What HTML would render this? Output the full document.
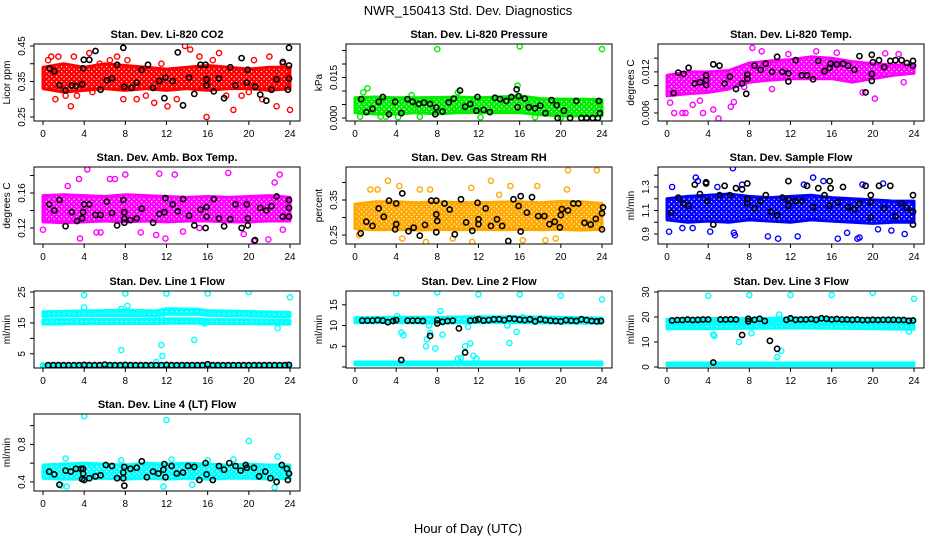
<!DOCTYPE html>
<html><head><meta charset="utf-8">
<style>
html,body{margin:0;padding:0;background:#fff;}
svg{display:block;font-family:"Liberation Sans",Arial,sans-serif;}
</style></head>
<body>
<svg id="chart" width="936" height="540" viewBox="0 0 936 540" xmlns="http://www.w3.org/2000/svg">
<rect width="936" height="540" fill="#fff"/>
<defs id="defs"></defs>
<text x="468" y="15" text-anchor="middle" font-size="13">NWR_150413 Std. Dev. Diagnostics</text>
<text x="468" y="533" text-anchor="middle" font-size="13">Hour of Day (UTC)</text>
</svg>
<script>
// ---------- Panel 1: Li-820 CO2 ----------
const p1BandT=[0,2,4,6,8,10,12,14,16,18,20,22,24];
const p1BandLo=[0.33,0.32,0.325,0.33,0.325,0.33,0.325,0.33,0.325,0.33,0.33,0.325,0.33];
const p1BandHi=[0.39,0.40,0.39,0.40,0.395,0.39,0.385,0.39,0.395,0.39,0.385,0.39,0.39];
const p1PtsH=[0.5,0.8,1.2,1.5,2.2,2.7,3,3.3,4.5,4.8,5.5,6.5,7.2,7.8,8.2,9.1,10,10.8,11.5,12.1,13,13.8,14.3,15.2,15.9,16.5,17.1,17.8,18.5,19.3,20,20.5,21.3,22,22.7,23.3,24];
const p1PtsV=[0.41,0.42,0.30,0.42,0.31,0.28,0.42,0.31,0.43,0.32,0.40,0.41,0.42,0.30,0.41,0.30,0.31,0.29,0.40,0.28,0.30,0.45,0.44,0.42,0.25,0.41,0.43,0.31,0.27,0.31,0.32,0.41,0.30,0.42,0.28,0.40,0.27];
const p1BlkH=[0.65,1.1,1.6,2.2,2.8,3.2,3.8,3.9,3.96,4.5,5.1,5.6,6.2,6.7,7.2,7.8,7.9,8.6,9.1,9.6,10.2,10.7,11.3,11.8,11.9,12.6,13.1,13.6,14.2,14.7,15.3,15.8,15.9,15.9,16.6,17.1,17.6,18.2,18.7,19.3,19.8,19.9,20.6,21.1,21.7,22.2,22.7,23.3,23.8,23.9,23.9,23.9];
const p1BlkV=[0.387,0.379,0.339,0.325,0.339,0.337,0.342,0.387,0.411,0.411,0.436,0.327,0.353,0.359,0.397,0.445,0.335,0.332,0.347,0.383,0.397,0.332,0.351,0.303,0.361,0.351,0.432,0.283,0.361,0.315,0.397,0.397,0.356,0.339,0.322,0.359,0.303,0.390,0.339,0.416,0.347,0.383,0.335,0.313,0.296,0.327,0.356,0.405,0.327,0.445,0.395,0.358];
const p1Ticks=[0.25,0.30,0.35,0.40,0.45];
const p1TickLabels=["0.25","","0.35","","0.45"];

// ---------- Panel 2: Li-820 Pressure ----------
const p2BandT=[0,2,4,6,8,10,12,14,16,18,20,22,24];
const p2BandLo=[0.002,0.0015,0.0015,0.002,0.0015,0.002,0.002,0.002,0.002,0.0012,0.0008,0.0008,0.0008];
const p2BandHi=[0.0075,0.0078,0.0075,0.0075,0.0076,0.0078,0.0075,0.0078,0.0082,0.0072,0.007,0.007,0.0068];
const p2PtsH=[8,16,24,0.8,1.2,15.8,10,5.5,0.5,2.5,4.2,6.3,12.2,20,22.5,17.5,3];
const p2PtsV=[0.0255,0.0265,0.0255,0.0095,0.011,0.012,0.0095,0.0085,0.0005,0.0005,0.0003,0.0005,0.0003,0.0002,0.0002,0.0003,0.0005];
const p2BlkH=[0.6,1.1,1.7,2.3,2.7,3.3,3.9,4.5,5.1,5.6,6.2,6.7,7.3,7.8,7.9,8.5,9.1,9.6,10.2,10.7,11.2,11.8,11.9,12.5,13.1,13.6,14.1,14.7,15.2,15.7,15.8,15.9,16.5,16.9,17.5,18,18.5,19.1,19.6,19.7,20.3,20.9,21.5,22,22.5,23.1,23.7,23.8,23.6];
const p2BlkV=[0.007,0.0022,0.0034,0.006,0.0078,0.0014,0.006,0.0018,0.007,0.006,0.0052,0.0057,0.0052,0.0014,0.0039,0.0024,0.0058,0.0072,0.0102,0.0042,0.0052,0.0027,0.0078,0.003,0.0022,0.0075,0.007,0.0063,0.0078,0.0106,0.004,0.0081,0.0072,0.004,0.0036,0.0046,0.0018,0.0066,0.0048,0,0.0027,0,0.0063,0,0,0,0.0063,0.0018,0];
const p2Ticks=[0,0.005,0.010,0.015,0.020,0.025];
const p2TickLabels=["0.000","","","0.015","",""];

// ---------- Panel 3: Li-820 Temp ----------
const p3BandT=[0,2,4,6,8,10,12,14,16,18,20,22,24];
const p3BandLo=[0.0085,0.0088,0.009,0.0095,0.0105,0.0108,0.011,0.011,0.011,0.0105,0.011,0.0115,0.0118];
const p3BandHi=[0.0115,0.012,0.012,0.0122,0.0133,0.0136,0.0138,0.0142,0.014,0.0135,0.0132,0.013,0.013];
const p3PtsH=[0.7,1.5,1.8,3.5,4.5,5,6.2,6.5,7.5,8.3,9.2,10.2,11.8,14.5,16.5,19,20.2,21.2,22.5,23,0.3,2.5,3.2];
const p3PtsV=[0.006,0.006,0.006,0.006,0.0065,0.0052,0.0069,0.0076,0.0098,0.0155,0.015,0.0095,0.0146,0.015,0.0148,0.009,0.0081,0.0147,0.0146,0.0105,0.0075,0.0072,0.0078];
const p3BlkH=[0.65,1.1,1.6,2.1,2.7,3.2,3.8,3.8,3.8,4.5,5.1,5.6,6.1,6.7,7.3,7.8,7.8,7.7,8.5,9.1,9.6,10.2,10.7,11.2,11.8,11.8,12.5,13.1,13.6,14.2,14.7,15.3,15.8,15.9,16.5,17.1,17.6,18.2,18.7,19.3,19.9,20,19.9,19.9,20.6,21.1,21.7,22.2,22.8,23.3,23.9,23.9];
const p3BlkV=[0.0089,0.0119,0.0117,0.0126,0.0103,0.0105,0.0115,0.0108,0.0101,0.0131,0.0129,0.0103,0.0113,0.0095,0.0103,0.0116,0.011,0.0088,0.0129,0.0123,0.0132,0.012,0.0142,0.012,0.0118,0.0106,0.0137,0.0115,0.0115,0.0109,0.0136,0.0121,0.0126,0.0132,0.0131,0.0132,0.0129,0.0123,0.0143,0.009,0.0145,0.0134,0.0117,0.0107,0.0137,0.0127,0.0136,0.0137,0.0137,0.0133,0.0136,0.0129];
const p3Ticks=[0.006,0.008,0.010,0.012,0.014];
const p3TickLabels=["0.006","","","0.012",""];

// ---------- Panel 4: Amb. Box Temp ----------
const p4BandT=[0,2,4,6,8,10,12,14,16,18,20,22,24];
const p4BandLo=[0.127,0.126,0.127,0.128,0.127,0.128,0.127,0.128,0.128,0.127,0.127,0.128,0.128];
const p4BandHi=[0.157,0.158,0.157,0.156,0.158,0.157,0.156,0.155,0.156,0.155,0.156,0.157,0.155];
const p4PtsH=[0,2.4,3.5,4.3,5.2,5.6,6.5,7,8,9.5,11,11.3,11.9,12.8,13.6,15.2,18,19.5,20.5,21.9,22.5,23,23.3,3.6];
const p4PtsV=[0.118,0.168,0.176,0.187,0.115,0.115,0.176,0.176,0.181,0.115,0.112,0.182,0.108,0.181,0.116,0.12,0.183,0.113,0.105,0.107,0.172,0.181,0.118,0.108];
const p4BlkH=[0.6,1.1,1.6,2.2,2.8,3.3,3.8,3.9,4,4.5,5.1,5.6,6.2,6.7,7.2,7.8,7.9,7.9,7.9,8.5,9.1,9.6,10.7,11.3,11.8,11.9,12.6,13.1,13.6,14.2,14.7,15.3,15.8,15.9,15.9,16.6,17.1,17.6,18.2,18.7,19.3,19.8,19.9,19.9,20.6,21.1,21.7,22.2,22.7,23.3,23.9,23.9,23.9];
const p4BlkV=[0.147,0.14,0.152,0.122,0.138,0.128,0.131,0.138,0.147,0.147,0.135,0.135,0.15,0.137,0.123,0.152,0.138,0.131,0.126,0.129,0.131,0.142,0.126,0.136,0.138,0.154,0.147,0.139,0.153,0.134,0.123,0.141,0.12,0.133,0.144,0.153,0.131,0.122,0.13,0.147,0.12,0.147,0.131,0.123,0.106,0.143,0.14,0.145,0.156,0.133,0.133,0.143,0.152];
const p4Ticks=[0.12,0.14,0.16,0.18];
const p4TickLabels=["0.12","","0.16",""];

// ---------- Panel 5: Gas Stream RH ----------
const p5BandT=[0,2,4,6,8,10,12,14,16,18,20,22,24];
const p5BandLo=[0.268,0.265,0.266,0.264,0.266,0.265,0.266,0.265,0.266,0.265,0.266,0.264,0.266];
const p5BandHi=[0.338,0.345,0.345,0.342,0.345,0.343,0.342,0.344,0.345,0.342,0.346,0.345,0.34];
const p5PtsH=[1.5,2.2,3.2,4.3,6.3,7.3,9.5,11.3,11.4,13.2,14,15.1,16.3,17.7,18.5,19.5,20.6,20.7,23.5,4.6,6.9,0.4];
const p5PtsV=[0.38,0.38,0.405,0.39,0.38,0.38,0.24,0.385,0.23,0.405,0.365,0.39,0.235,0.39,0.235,0.24,0.38,0.435,0.435,0.24,0.23,0.25];
const p5BlkH=[0.55,1.1,1.7,2.3,2.8,3.3,3.9,4,4,4.6,5.2,5.7,6.3,6.8,7.4,7.9,7.9,8,7.9,8.7,9.2,9.7,10.3,10.8,11.4,11.9,12,12,12.7,13.2,13.8,14.3,14.9,15.4,15.9,16.1,16.1,16.7,17.2,17.8,18.4,18.9,19.4,19.9,20,20.1,20.7,21.2,21.7,22.3,22.9,23.4,24,24,24.1];
const p5BlkV=[0.255,0.288,0.276,0.326,0.302,0.348,0.266,0.34,0.281,0.369,0.261,0.271,0.248,0.279,0.348,0.348,0.309,0.29,0.258,0.34,0.323,0.252,0.352,0.286,0.262,0.342,0.295,0.281,0.326,0.276,0.295,0.276,0.233,0.352,0.333,0.361,0.26,0.314,0.358,0.304,0.304,0.281,0.288,0.272,0.307,0.324,0.32,0.34,0.34,0.285,0.28,0.296,0.266,0.312,0.329];
const p5Ticks=[0.25,0.30,0.35,0.40];
const p5TickLabels=["0.25","","0.35",""];

// ---------- Panel 6: Sample Flow ----------
const p6BandT=[0,2,4,6,8,10,12,14,16,18,20,22,24];
const p6BandLo=[1.02,1.0,1.01,1.0,1.02,1.01,1.0,1.02,1.01,1.0,0.99,1.0,1.0];
const p6BandHi=[1.2,1.22,1.23,1.24,1.22,1.21,1.22,1.23,1.21,1.2,1.19,1.18,1.18];
const p6PtsH=[0.2,0.5,1.5,2.5,2.8,3,4.2,4.9,6.5,6.6,6.4,7.3,9.8,10.8,12.7,13.3,14.2,15.2,16.6,17.5,18.5,18.7,19,20.5,21,21.8,23.1];
const p6PtsV=[0.92,1.3,0.95,0.95,1.38,1.35,0.92,1.3,0.91,0.89,1.46,1.32,0.88,0.86,0.88,1.32,1.38,1.35,0.86,0.91,0.86,0.87,1.32,0.94,1.33,0.93,0.9];
const p6BlkH=[0.4,1.1,1.6,2.1,2.7,3.2,3.8,3.8,3.9,4.5,5.1,5.6,6.1,6.7,7.3,7.8,7.8,7.8,8.5,9.1,9.6,10.1,10.7,11.2,11.8,11.8,11.8,12.5,13.1,13.6,14.2,14.7,15.3,15.8,15.8,15.9,16.6,17.1,17.6,18.2,18.7,19.3,19.8,19.8,19.8,20.6,21.1,21.7,22.2,22.8,23.3,23.9,23.9,23.9];
const p6BlkV=[1.08,1.21,1.16,1.14,1.32,1.24,1.34,1.33,1.18,0.98,1.23,1.31,1.23,1.29,1.28,1.33,1.16,1.2,1.12,1.18,1.23,1.09,1.06,1.21,1.35,1.19,1.14,1.18,1.18,1.31,1.13,1.29,1.23,1.14,1.35,1.29,1.17,1.3,1.13,1.11,1.16,1.31,1.23,1.17,1.04,1.31,1.12,1.31,1.05,1.16,1.12,1.09,1.23,0.98];
const p6Ticks=[0.9,1.0,1.1,1.2,1.3,1.4];
const p6TickLabels=["0.9","","1.1","","1.3",""];

// ---------- Panel 7: Line 1 Flow ----------
const p7BandT=[0,4,8,11,12,15,16,20,24];
const p7BandALo=[14.6,14.7,14.8,14.8,14.9,14.9,14.8,14.7,14.6];
const p7BandAHi=[16.0,16.1,16.2,16.1,16.3,16.3,16.1,16.0,15.9];
const p7BandBLo=[17.1,17.3,17.4,17.2,17.8,17.8,17.4,17.2,17.0];
const p7BandBHi=[18.6,18.9,19.1,18.9,19.6,19.4,19.0,18.7,18.4];
const p7BandCLo=[0.8,0.8,0.8,0.8,0.8,0.8,0.8,0.8,0.8];
const p7BandCHi=[1.6,1.6,1.6,1.6,1.6,1.6,1.6,1.6,1.6];
const p7PtsH=[4,4,8,8.2,7.6,7.6,11.5,11.6,11.5,12,14.7,16,20,22.8,24,11,0,15.7];
const p7PtsV=[24,20,24.5,20.5,19.5,6.2,7.8,4.3,17.3,24.5,9.5,24.5,25,13.3,23.3,2.3,1.2,14.8];
const p7BlkH=[0.5,1,1.5,2,2.5,3,3.5,4,4.5,5,5.5,6,6.5,7,7.5,8,8.5,9,9.5,10,10.5,11,11.5,12,12.5,13,13.5,14,14.5,15,15.5,16,16.5,17,17.5,18,18.5,19,19.5,20,20.5,21,21.5,22,22.5,23,23.5,23.9];
const p7BlkV=[1.3,1.3,1.3,1.3,1.3,1.3,1.3,1.4,1.3,1.3,1.3,1.5,1.3,1.3,1.3,1.4,1.3,1.3,1.3,1.3,1.3,1.3,1.3,1.4,1.3,1.3,1.3,1.3,1.3,1.3,1.3,1.6,1.3,1.3,1.3,1.3,1.3,1.3,1.3,1.3,1.3,1.3,1.3,1.3,1.3,1.3,1.3,1.4];
const p7Ticks=[5,10,15,20,25];
const p7TickLabels=["5","","15","","25"];

// ---------- Panel 8: Line 2 Flow ----------
const p8BandT=[0,4,8,12,16,20,24];
const p8BandALo=[10.7,10.7,10.6,10.7,10.7,10.6,10.6];
const p8BandAHi=[11.9,12.0,12.0,12.1,12.1,12.0,11.8];
const p8BandBLo=[0.5,0.5,0.5,0.5,0.5,0.5,0.5];
const p8BandBHi=[1.2,1.2,1.2,1.2,1.2,1.2,1.2];
const p8PtsH=[4,8,12,16,20,24,4.1,4.5,4.7,6.9,7,7.2,7.3,7.8,8.3,8.5,10,10.3,10.7,11,11.2,11.5,11.8,14.8,15,15.7,16.3];
const p8PtsV=[17.8,18,17.5,17.5,17.2,16.3,12.3,8.3,7.7,5,6.7,10,8.2,4.5,13.5,7.8,2,2.2,5,9.7,5.7,2.7,2,10,5.8,8.5,12];
const p8BlkH=[0.7,1.2,1.7,2.2,2.7,3.2,3.7,4,5.1,5.6,6.1,6.6,8,8.5,9,9.5,11.2,11.7,12,12.5,13,13.5,14,14.5,15,15.5,16,16.5,17,17.5,18,18.5,19,19.5,20,20.5,21,21.5,22,22.5,23,23.5,23.9,4.5,7.3,8,10.1,10.7];
const p8BlkV=[11.2,11.2,11.2,11.3,11.2,10.8,11.1,11.3,11.2,11.2,11.2,11.1,11.3,10.9,11.1,11.2,11.2,11.3,11.5,11.2,11.3,11.5,11.5,11.3,11.7,11.6,11.4,11.3,11.5,11.0,11.5,11.3,11.2,11.1,11.0,11.3,11.2,11.1,11.5,11.3,11.1,11.0,11.1,1.7,7.5,10.5,9.3,3.5];
const p8Ticks=[0,5,10,15];
const p8TickLabels=["","5","10","15"];

// ---------- Panel 9: Line 3 Flow ----------
const p9BandT=[0,4,8,12,16,20,24];
const p9BandALo=[15.3,15.3,15.5,15.6,15.5,15.3,15.1];
const p9BandAHi=[16.9,17.1,17.1,17.2,17.1,17.0,16.7];
const p9BandBLo=[17.9,18.1,18.2,18.3,18.3,18.1,17.9];
const p9BandBHi=[19.1,19.4,19.4,19.6,19.5,19.3,19.1];
const p9BandCLo=[0.6,0.6,0.6,0.6,0.6,0.6,0.6];
const p9BandCHi=[1.6,1.6,1.6,1.6,1.6,1.6,1.6];
const p9PtsH=[4,8,12,16,20,24,4.5,7,8.2,10.7,10.9,11.1,23.5,4.6];
const p9PtsV=[28.5,28.8,28.8,28.8,29.7,27.3,13,10,13.5,4,21,6.5,14.2,12.5];
const p9BlkH=[0.5,1,1.5,2,2.5,3,3.5,4,5.2,5.7,6.2,6.7,7.9,8.5,9,9.5,11.6,12,12.5,13,13.5,14,14.5,15,15.5,16,16.5,17,17.5,18,18.5,19,19.5,20,20.5,21,21.5,22,22.5,23,23.5,23.9,4.5,7.3,10,10.7,7.9];
const p9BlkV=[18.6,18.8,18.8,19.0,18.8,18.9,19.0,19.0,19.0,19.0,19.1,19.0,19.3,18.9,19.3,18.4,18.9,19.5,18.9,19.0,19.0,19.2,18.9,19.5,19.3,19.0,19.2,19.0,19.0,18.9,19.0,18.8,18.8,18.9,18.8,18.9,18.9,18.9,18.8,18.8,18.5,18.6,1.8,12.8,10.5,7.3,18.3];
const p9Ticks=[0,10,20,30];
const p9TickLabels=["0","10","20","30"];

// ---------- Panel 10: Line 4 (LT) Flow ----------
const p10BandT=[0,2,4,6,8,10,12,14,16,18,20,22,24];
const p10BandLo=[0.44,0.43,0.43,0.44,0.43,0.44,0.43,0.44,0.43,0.44,0.44,0.43,0.44];
const p10BandHi=[0.58,0.59,0.6,0.59,0.58,0.6,0.59,0.6,0.59,0.58,0.59,0.58,0.58];
const p10PtsH=[4,12,20,22.8,2.2,18.5,1.8,2.3,11.7,22.5,16,12.5,7.6,14.5];
const p10PtsV=[1.1,1.06,0.836,0.67,0.65,0.64,0.36,0.35,0.35,0.34,0.63,0.64,0.63,0.37];
const p10BlkH=[0.6,1.1,1.6,2.2,2.7,3.2,3.7,3.8,3.9,3.9,4,4.5,5.1,5.6,6.1,6.7,7.2,7.8,7.8,7.9,7.9,8.5,9.1,9.6,10.1,10.7,11.2,11.7,11.8,11.9,12.5,13,13.6,14.1,14.7,15.2,15.8,15.9,16.5,17.1,17.6,18.1,18.7,19.2,19.7,19.8,20.5,21,21.6,22.1,22.7,23.2,23.7,23.8,23.9];
const p10BlkV=[0.51,0.48,0.37,0.52,0.51,0.54,0.54,0.43,0.49,0.54,0.42,0.44,0.46,0.47,0.58,0.57,0.44,0.44,0.5,0.56,0.36,0.54,0.55,0.62,0.45,0.51,0.49,0.53,0.59,0.45,0.57,0.49,0.5,0.57,0.56,0.42,0.6,0.48,0.42,0.57,0.53,0.6,0.57,0.52,0.58,0.55,0.55,0.46,0.51,0.44,0.4,0.58,0.54,0.42,0.49];
const p10Ticks=[0.4,0.6,0.8,1.0];
const p10TickLabels=["0.4","","0.8",""];

const xTicks=[0,4,8,12,16,20,24];

// ---------- layout (not data) ----------
const colLeft=[34,346,658], rowTop=[44,167,291,414], boxW=266, boxH=77;
const panels=[
 {c:0,r:0,title:"Stan. Dev. Li-820 CO2",ylab:"Licor ppm",dom:[0.2387,0.4556],ticks:p1Ticks,tl:p1TickLabels,col:"#ff0000",bands:[[p1BandT,p1BandLo,p1BandHi]],sH:p1PtsH,sV:p1PtsV,bH:p1BlkH,bV:p1BlkV},
 {c:1,r:0,title:"Stan. Dev. Li-820 Pressure",ylab:"kPa",dom:[-0.0011,0.0274],ticks:p2Ticks,tl:p2TickLabels,col:"#00ee00",bands:[[p2BandT,p2BandLo,p2BandHi]],sH:p2PtsH,sV:p2PtsV,bH:p2BlkH,bV:p2BlkV},
 {c:2,r:0,title:"Stan. Dev. Li-820 Temp.",ylab:"degrees C",dom:[0.00483,0.01607],ticks:p3Ticks,tl:p3TickLabels,col:"#ff00ff",bands:[[p3BandT,p3BandLo,p3BandHi]],sH:p3PtsH,sV:p3PtsV,bH:p3BlkH,bV:p3BlkV},
 {c:0,r:1,title:"Stan. Dev. Amb. Box Temp.",ylab:"degrees C",dom:[0.1017,0.1897],ticks:p4Ticks,tl:p4TickLabels,col:"#ff00ff",bands:[[p4BandT,p4BandLo,p4BandHi]],sH:p4PtsH,sV:p4PtsV,bH:p4BlkH,bV:p4BlkV},
 {c:1,r:1,title:"Stan. Dev. Gas Stream RH",ylab:"percent",dom:[0.2243,0.4443],ticks:p5Ticks,tl:p5TickLabels,col:"#ffa800",bands:[[p5BandT,p5BandLo,p5BandHi]],sH:p5PtsH,sV:p5PtsV,bH:p5BlkH,bV:p5BlkV},
 {c:2,r:1,title:"Stan. Dev. Sample Flow",ylab:"ml/min",dom:[0.815,1.47],ticks:p6Ticks,tl:p6TickLabels,col:"#0000ff",bands:[[p6BandT,p6BandLo,p6BandHi]],sH:p6PtsH,sV:p6PtsV,bH:p6BlkH,bV:p6BlkV},
 {c:0,r:2,title:"Stan. Dev. Line 1 Flow",ylab:"ml/min",dom:[0.4,25.33],ticks:p7Ticks,tl:p7TickLabels,col:"#00ffff",bands:[[p7BandT,p7BandALo,p7BandAHi],[p7BandT,p7BandBLo,p7BandBHi],[p7BandT,p7BandCLo,p7BandCHi]],sH:p7PtsH,sV:p7PtsV,bH:p7BlkH,bV:p7BlkV},
 {c:1,r:2,title:"Stan. Dev. Line 2 Flow",ylab:"ml/min",dom:[-0.24,18.33],ticks:p8Ticks,tl:p8TickLabels,col:"#00ffff",bands:[[p8BandT,p8BandALo,p8BandAHi],[p8BandT,p8BandBLo,p8BandBHi]],sH:p8PtsH,sV:p8PtsV,bH:p8BlkH,bV:p8BlkV},
 {c:2,r:2,title:"Stan. Dev. Line 3 Flow",ylab:"ml/min",dom:[-0.4,30.4],ticks:p9Ticks,tl:p9TickLabels,col:"#00ffff",bands:[[p9BandT,p9BandALo,p9BandAHi],[p9BandT,p9BandBLo,p9BandBHi],[p9BandT,p9BandCLo,p9BandCHi]],sH:p9PtsH,sV:p9PtsV,bH:p9BlkH,bV:p9BlkV},
 {c:0,r:3,title:"Stan. Dev. Line 4 (LT) Flow",ylab:"ml/min",dom:[0.303,1.124],ticks:p10Ticks,tl:p10TickLabels,col:"#00ffff",bands:[[p10BandT,p10BandLo,p10BandHi]],sH:p10PtsH,sV:p10PtsV,bH:p10BlkH,bV:p10BlkV}
];
const NS="http://www.w3.org/2000/svg";
const svg=document.getElementById('chart');
const defs=document.getElementById('defs');
function mk(tag,attrs,parent){const e=document.createElementNS(NS,tag);for(const k in attrs)e.setAttribute(k,attrs[k]);(parent||svg).appendChild(e);return e;}

panels.forEach((p,i)=>{
 const L=colLeft[p.c], T=rowTop[p.r], B=T+boxH;
 const xs=h=>L+9+h/24*247;
 const ys=v=>B-(v-p.dom[0])/(p.dom[1]-p.dom[0])*boxH;
 const pat=mk('pattern',{id:'pat'+i,width:5,height:5,patternUnits:'userSpaceOnUse'},defs);
 mk('rect',{width:5,height:5,fill:p.col},pat);
 mk('rect',{x:1,y:1,width:1.2,height:1.2,fill:'#fff'},pat);
 mk('rect',{x:3.5,y:3.5,width:1.2,height:1.2,fill:'#fff'},pat);
 const g=mk('g',{});
 
 
 const clip=mk('clipPath',{id:'clip'+i},g);
 mk('rect',{x:L,y:T,width:boxW,height:boxH},clip);
 const plot=mk('g',{'clip-path':'url(#clip'+i+')'},g);
 
 
 p.bands.forEach(b=>{
  const [bt,lo,hi]=b;
  let pts=[];
  for(let k=0;k<bt.length;k++)pts.push(xs(bt[k]).toFixed(1)+','+ys(hi[k]).toFixed(1));
  for(let k=bt.length-1;k>=0;k--)pts.push(xs(bt[k]).toFixed(1)+','+ys(lo[k]).toFixed(1));
  const poly=mk('polygon',{points:pts.join(' '),fill:'url(#pat'+i+')',stroke:p.col,'stroke-width':3,'stroke-linejoin':'round'},plot);
  
  
 });
 p.sH.forEach((h,k)=>{
  const c=mk('circle',{cx:xs(h).toFixed(1),cy:ys(p.sV[k]).toFixed(1),r:2.6,fill:'none',stroke:p.col,'stroke-width':1.4},plot);
  
  
 });
 p.bH.forEach((h,k)=>{
  const c=mk('circle',{cx:xs(h).toFixed(1),cy:ys(p.bV[k]).toFixed(1),r:2.6,fill:'none',stroke:'#000','stroke-width':1.6},plot);
  
  
 });
 const box=mk('rect',{x:L,y:T,width:boxW,height:boxH,fill:'none',stroke:'#000','stroke-width':1},g);
 
 
 const tt=mk('text',{x:L+boxW/2,y:T-6,'text-anchor':'middle','font-size':11,'font-weight':'bold'},g);
 tt.textContent=p.title;
 
 
 mk('line',{x1:xs(0),x2:xs(24),y1:B,y2:B,stroke:'#000'},g);
 xTicks.forEach(t=>{
  mk('line',{x1:xs(t),x2:xs(t),y1:B,y2:B+4,stroke:'#000'},g);
  const lb=mk('text',{x:xs(t),y:B+16,'text-anchor':'middle','font-size':10},g);
  lb.textContent=t;
  
  
 });
 const yt=p.ticks.filter(t=>t>=p.dom[0]&&t<=p.dom[1]);
 mk('line',{x1:L,x2:L,y1:ys(yt[0]),y2:ys(yt[yt.length-1]),stroke:'#000'},g);
 p.ticks.forEach((t,k)=>{
  if(t<p.dom[0]||t>p.dom[1])return;
  const y=ys(t);
  mk('line',{x1:L-4,x2:L,y1:y,y2:y,stroke:'#000'},g);
  if(p.tl[k]){
   const lb=mk('text',{x:L-9,y:y,'text-anchor':'middle','font-size':10,transform:'rotate(-90 '+(L-9)+' '+y+')'},g);
   lb.textContent=p.tl[k];
   
   
  }
 });
 const ya=mk('text',{x:L-24,y:T+boxH/2,'text-anchor':'middle','font-size':10,transform:'rotate(-90 '+(L-24)+' '+(T+boxH/2)+')'},g);
 ya.textContent=p.ylab;
 
 
});
</script>
</body></html>
